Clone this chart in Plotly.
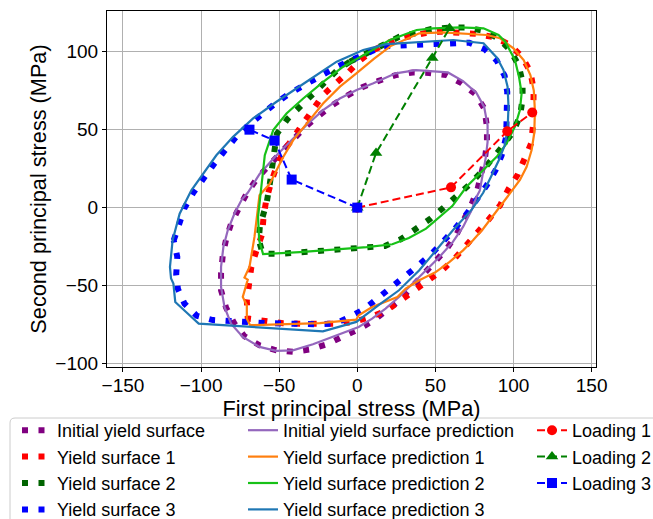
import plotly.graph_objects as go

# ---------------- data (MPa) ----------------
ys0_x = [-6.4, 3.2, 13.6, 24.6, 35.5, 46.0, 57.0, 66.7, 75.6, 81.4, 83.0, 83.0, 81.7, 79.5, 77.0, 73.5,
         69.4, 63.8, 57.3, 50.4, 42.9, 34.7, 27.2, 18.5, 9.9, 1.5, -9.2, -19.9, -30.5, -41.2, -51.9,
         -62.6, -72.2, -78.6, -84.0, -87.2, -87.2, -86.1, -84.0, -80.8, -75.4, -70.3, -63.6, -56.0,
         -48.0, -40.5, -33.0, -25.1, -15.9, -6.4]
ys0_y = [71.8, 77.2, 81.3, 85.0, 86.7, 86.4, 85.0, 79.8, 72.8, 63.4, 51.7, 41.5, 31.5, 22.0, 12.0, 3.0,
         -6.0, -16.7, -26.3, -34.2, -42.3, -50.9, -59.4, -66.2, -72.7, -77.6, -82.9, -87.8, -91.0, -92.5,
         -91.5, -88.3, -82.5, -74.4, -64.1, -53.0, -41.9, -30.6, -20.5, -10.3, 0.4, 9.9, 19.4, 28.3,
         36.3, 44.2, 52.0, 58.6, 65.7, 71.8]

ys1_x = [-5.2, 2.0, 10.6, 21.3, 32.0, 42.9, 53.7, 65.5, 76.3, 88.1, 97.8, 105.4, 110.8, 112.9, 112.9,
         112.5, 111.2, 107.5, 102.6, 96.8, 91.4, 84.5, 77.4, 69.8, 62.3, 54.3, 45.0, 35.8, 27.2, 18.5,
         8.1, -2.6, -14.3, -25.0, -35.7, -47.4, -58.3, -70.1, -70.7, -69.4, -67.9, -64.7, -60.9, -60.0,
         -58.3, -55.5, -52.0, -47.5, -41.0, -34.7, -28.3, -21.9, -13.3, -5.2]
ys1_y = [87.3, 94.6, 101.1, 106.4, 109.5, 111.8, 112.9, 112.2, 111.4, 109.2, 104.3, 96.8, 87.1, 75.8,
         64.6, 52.8, 41.0, 31.3, 21.0, 12.0, 1.5, -7.1, -15.6, -24.1, -32.7, -40.2, -47.0, -53.0, -59.8,
         -66.2, -70.2, -73.4, -74.5, -74.9, -74.5, -74.1, -72.8, -71.2, -59.8, -49.4, -38.7, -28.0,
         -17.1, -6.0, 4.7, 15.0, 25.5, 35.6, 45.0, 53.9, 63.6, 72.2, 80.2, 87.3]

ys2_x = [-4.7, 3.8, 13.5, 26.7, 37.0, 47.4, 59.4, 69.8, 80.6, 90.3, 97.8, 103.2, 105.8, 105.8, 104.3,
         100.0, 93.5, 87.1, 80.0, 72.0, 63.5, 54.9, 46.3, 36.7, 27.8, 17.7, 6.8, -3.7, -15.3, -26.3,
         -37.4, -48.1, -60.5, -63.0, -62.4, -60.5, -57.9, -56.0, -54.5, -53.0, -51.5, -44.5, -36.8,
         -29.3, -21.4, -12.8, -4.7]
ys2_y = [93.6, 97.9, 103.2, 109.5, 111.8, 114.5, 115.5, 115.5, 113.5, 108.6, 101.1, 91.4, 80.7, 70.0,
         59.2, 49.0, 40.0, 31.5, 23.5, 15.0, 7.0, -0.3, -7.5, -14.5, -20.3, -24.6, -25.5, -26.3, -27.2,
         -28.3, -29.1, -29.6, -29.5, -21.0, -12.4, -5.0, 3.6, 15.2, 26.5, 37.0, 47.3, 57.0, 64.7, 72.2,
         80.7, 88.2, 93.6]

ys3_x = [-117.5, -114.3, -110.5, -105.0, -98.8, -91.9, -84.7, -77.6, -69.5, -60.8, -52.5, -43.3,
         -33.6, -24.0, -13.8, -3.6, 6.5, 16.3, 27.0, 38.3, 49.0, 61.0, 71.7, 81.7, 89.2, 94.3, 96.0,
         95.7, 95.7, 95.3, 92.4, 88.5, 82.9, 76.5, 70.1, 62.6, 55.1, 47.6, 39.1, 30.6, 22.0, 13.4, 4.8,
         -4.6, -14.4, -25.3, -36.6, -47.7, -59.0, -70.5, -81.5, -92.4, -102.7, -110.6, -114.8, -115.9,
         -115.2, -117.5]
ys3_y = [-21.0, -10.1, 0.0, 9.5, 18.4, 27.7, 36.7, 45.3, 53.0, 60.2, 66.8, 73.2, 79.0, 84.8, 89.9,
         94.7, 99.5, 103.4, 104.0, 104.5, 104.7, 106.1, 105.8, 101.5, 94.4, 84.6, 74.2, 63.2, 56.6, 45.4,
         33.6, 24.0, 14.4, 4.7, -3.9, -13.5, -22.1, -29.6, -37.0, -44.1, -51.0, -58.4, -64.8, -70.0,
         -74.4, -74.8, -74.8, -74.4, -74.0, -73.3, -73.0, -72.1, -69.4, -61.6, -52.2, -42.9, -31.6,
         -21.0]

pred0_x = [-0.4, 10.3, 24.6, 37.5, 58.0, 67.7, 76.3, 81.2, 83.4, 83.4, 82.3, 80.6, 78.4, 76.3, 73.1,
           67.7, 61.2, 52.6, 44.0, 35.4, 26.7, 18.1, 9.5, 0.9, -15.6, -28.4, -41.2, -51.9, -62.6, -73.3,
           -80.8, -85.0, -87.2, -87.2, -85.7, -82.9, -78.6, -74.0, -70.0, -62.5, -52.9, -42.2, -32.6,
           -21.9, -11.2, -0.4]
pred0_y = [75.4, 79.7, 86.1, 88.2, 86.7, 81.1, 73.6, 64.6, 52.8, 42.1, 32.4, 21.7, 10.9, 6.8, -1.7,
           -12.4, -22.0, -31.6, -40.2, -48.7, -57.3, -64.8, -71.2, -76.5, -82.9, -87.6, -91.5, -91.9,
           -89.3, -82.9, -74.4, -63.7, -50.9, -38.0, -25.2, -14.5, -3.8, 5.0, 9.7, 21.6, 32.3, 43.1, 52.8,
           62.5, 70.0, 75.4]

pred1_x = [-0.4, 10.8, 21.3, 39.7, 54.7, 69.8, 82.8, 91.4, 100.0, 106.5, 110.8, 113.0, 113.7, 113.3,
           111.6, 108.4, 104.1, 97.7, 91.3, 87.1, 80.6, 74.1, 67.7, 59.1, 50.4, 39.7, 31.0, 25.7, 18.1,
           9.5, 0.9, -0.6, -24.0, -68.6, -70.7, -70.7, -73.3, -70.1, -72.2, -69.0, -65.8, -64.3, -62.6,
           -56.1, -47.5, -41.1, -32.6, -21.9, -11.1, -0.4]
pred1_y = [86.2, 95.5, 103.6, 111.8, 112.4, 111.4, 110.7, 108.6, 102.1, 94.6, 85.0, 75.0, 62.0, 48.0,
           36.9, 26.2, 17.7, 9.1, 0.5, -4.9, -13.5, -20.9, -27.4, -34.8, -41.2, -46.6, -51.9, -57.3,
           -60.5, -63.7, -69.0, -71.8, -74.0, -75.4, -71.2, -62.6, -57.3, -46.2, -44.9, -38.0, -18.8,
           -4.9, 8.0, 15.1, 32.3, 43.1, 53.9, 66.8, 77.6, 86.2]

pred2_x = [-9.0, 6.0, 20.9, 38.0, 48.7, 65.8, 80.8, 90.4, 94.7, 100.9, 103.5, 105.2, 104.1, 100.9, 95.6,
           89.2, 80.6, 69.9, 60.8, 52.6, 44.0, 33.0, 22.4, 6.0, -15.4, -36.8, -60.3, -62.8, -63.5, -61.3,
           -59.2, -53.8, -45.3, -34.6, -21.8, -9.0]
pred2_y = [90.4, 98.9, 107.5, 113.9, 115.0, 115.6, 115.0, 110.7, 106.4, 94.7, 84.0, 73.3, 62.6, 51.9,
           41.2, 32.6, 24.1, 13.4, 1.0, -6.0, -13.5, -19.5, -23.5, -25.3, -27.0, -28.5, -29.8, -21.0,
           -6.0, 13.3, 33.6, 49.7, 60.4, 70.0, 80.7, 90.4]

pred3_x = [96.2, 96.8, 96.2, 93.6, 89.5, 80.8, 61.5, 40.2, 18.8, 3.8, -13.2, -32.5, -51.7, -66.7, -79.5,
           -90.2, -98.7, -106.2, -113.7, -118.2, -119.9, -119.2, -117.7, -116.5, -109.6, -101.5, -22.0,
           -0.6, 14.3, 26.7, 39.7, 50.4, 61.2, 73.5, 80.6, 85.5, 90.6, 94.2, 96.2]
pred3_y = [49.7, 64.7, 77.5, 88.2, 96.0, 105.4, 107.5, 106.0, 104.9, 101.1, 93.6, 80.7, 67.9, 57.2, 45.4,
           33.6, 21.8, 11.1, -3.9, -20.9, -38.0, -45.5, -48.7, -60.5, -66.9, -74.4, -79.3, -73.3, -62.0,
           -53.0, -40.2, -27.4, -14.5, -1.0, 9.5, 19.7, 30.4, 39.5, 49.7]

load1_x = [0, 60, 96, 112]
load1_y = [0, 13, 49, 61]
load2_x = [0, 12, 48, 59]
load2_y = [0, 35, 96, 115]
load3_x = [0, -42, -53, -69]
load3_y = [0, 18, 43, 50]

surface_names = ["Initial yield surface", "Yield surface 1", "Yield surface 2", "Yield surface 3"]
prediction_names = ["Initial yield surface prediction", "Yield surface prediction 1",
                    "Yield surface prediction 2", "Yield surface prediction 3"]
loading_names = ["Loading 1", "Loading 2", "Loading 3"]

# ---------------- figure ----------------
FONT = "Liberation Sans, Arial, sans-serif"
W, H = 653, 519
ML, MR, MT, MB = 107, 57, 11, 152
PW, PH = W - ML - MR, H - MT - MB


def px(x):
    return (x - ML) / PW


def py(y):
    return (H - MB - y) / PH


fig = go.Figure()

surf_colors = ["#800080", "#ff0000", "#006400", "#0000ff"]
surf_data = [(ys0_x, ys0_y), (ys1_x, ys1_y), (ys2_x, ys2_y), (ys3_x, ys3_y)]
for i, ((xs, ys), c) in enumerate(zip(surf_data, surf_colors)):
    fig.add_trace(go.Scatter(x=xs, y=ys, mode="lines", name=surface_names[i],
                             line=dict(color=c, width=6, dash="6px,10.5px"),
                             legend="legend", legendgroup="s%d" % i))

pred_colors = ["#9467bd", "#ff7f0e", "#17c117", "#1f77b4"]
pred_data = [(pred0_x, pred0_y), (pred1_x, pred1_y), (pred2_x, pred2_y), (pred3_x, pred3_y)]
for i, ((xs, ys), c) in enumerate(zip(pred_data, pred_colors)):
    fig.add_trace(go.Scatter(x=xs, y=ys, mode="lines", name=prediction_names[i],
                             line=dict(color=c, width=2.2),
                             legend="legend2", legendgroup="p%d" % i))

load_data = [(load1_x, load1_y), (load2_x, load2_y), (load3_x, load3_y)]
load_colors = ["#ff0000", "#008000", "#0000ff"]
load_symbols = ["circle", "triangle-up", "square"]
for i, ((xs, ys), c, s) in enumerate(zip(load_data, load_colors, load_symbols)):
    fig.add_trace(go.Scatter(x=xs, y=ys, mode="lines+markers", name=loading_names[i],
                             line=dict(color=c, width=2, dash="8px,4px"),
                             marker=dict(color=c, symbol=s, size=10 if s != "triangle-up" else 11),
                             legend="legend3", legendgroup="l%d" % i))

legend_common = dict(font=dict(family=FONT, size=18, color="black"), bgcolor="rgba(0,0,0,0)",
                     borderwidth=0, xanchor="left", yanchor="top", tracegroupgap=0,
                     itemclick=False, itemdoubleclick=False)
legend_top = py(412)

# legend frame (rounded top-left corner, rest falls outside the figure)
frame_path = ("M {a},{b} L {a},{c} Q {a},{d} {e},{d} L {f},{d}"
              .format(a=px(10), b=py(560), c=py(423), d=py(418), e=px(15), f=px(720)))

fig.update_layout(
    width=W, height=H,
    margin=dict(l=ML, r=MR, t=MT, b=MB, autoexpand=False),
    paper_bgcolor="white", plot_bgcolor="white",
    font=dict(family=FONT, size=19, color="black"),
    showlegend=True,
    legend=dict(x=px(17), y=legend_top, **legend_common),
    legend2=dict(x=px(243), y=legend_top, **legend_common),
    legend3=dict(x=px(532), y=legend_top, **legend_common),
    shapes=[dict(type="path", xref="paper", yref="paper", path=frame_path,
                 line=dict(color="#cccccc", width=1), layer="above")],
    xaxis=dict(range=[-160.2, 152.8], tickmode="array", tickvals=[-150, -100, -50, 0, 50, 100, 150],
               showgrid=True, gridcolor="#b0b0b0", gridwidth=1, zeroline=False,
               showline=True, linecolor="black", linewidth=1.2, mirror=True,
               ticks="outside", ticklen=4, tickwidth=1, tickcolor="black",
               tickfont=dict(size=19), ticklabelstandoff=-3,
               title=dict(text="First principal stress (MPa)", font=dict(size=21.7), standoff=0)),
    yaxis=dict(range=[-102.2, 126.1], tickmode="array", tickvals=[-100, -50, 0, 50, 100],
               showgrid=True, gridcolor="#b0b0b0", gridwidth=1, zeroline=False,
               showline=True, linecolor="black", linewidth=1.2, mirror=True,
               ticks="outside", ticklen=4, tickwidth=1, tickcolor="black",
               tickfont=dict(size=19),
               title=dict(text="Second principal stress (MPa)", font=dict(size=21.7), standoff=2)),
)

fig.write_html("out.html", config={"displayModeBar": False},
               post_script="document.body.style.margin='0';document.body.style.overflow='hidden';")
